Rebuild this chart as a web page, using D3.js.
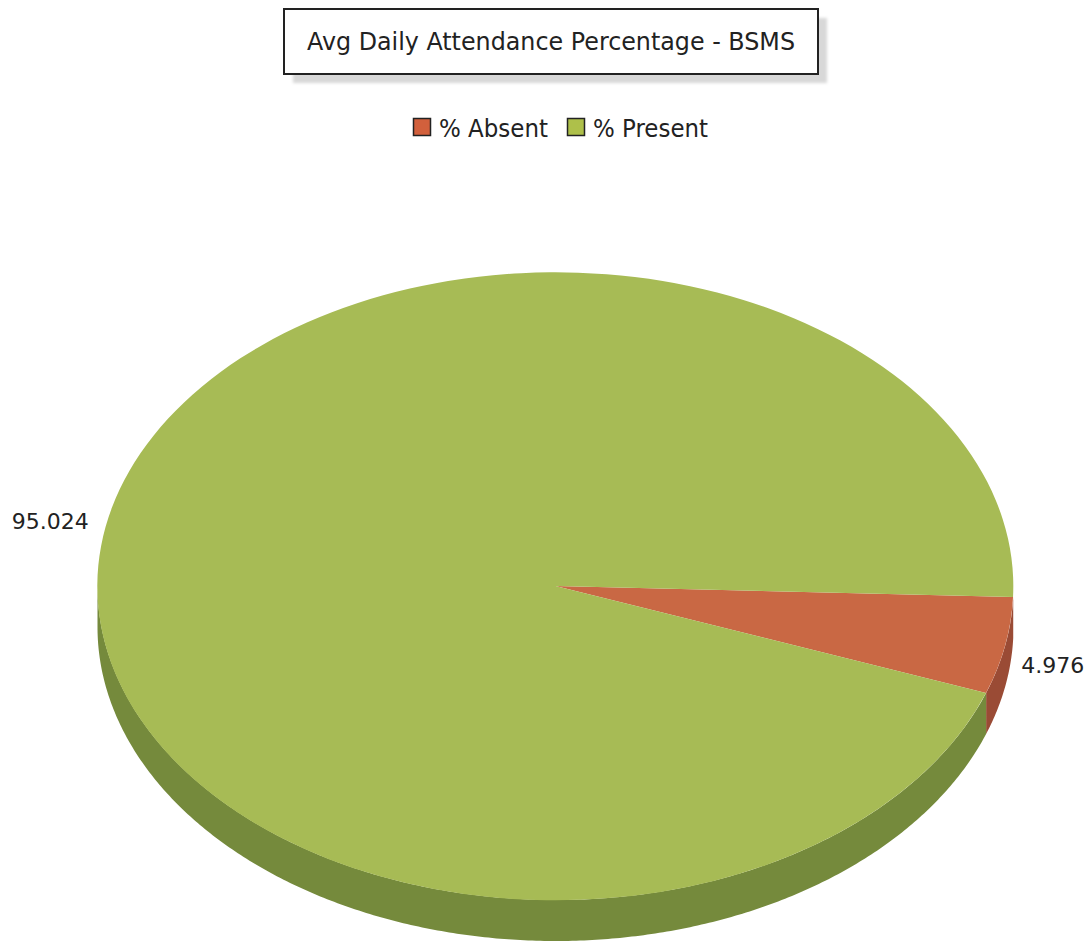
<!DOCTYPE html>
<html>
<head>
<meta charset="utf-8">
<title>Avg Daily Attendance Percentage - BSMS</title>
<script src="https://cdn.jsdelivr.net/npm/d3@7"></script>
<style>
  html, body { margin: 0; padding: 0; background: #fff; }
  svg { display: block; }
  text { font-family: "DejaVu Sans", sans-serif; fill: #222; }
</style>
</head>
<body>
<div id="chart"></div>
<script>
const categories = ['% Absent', '% Present'];
const values = [4.976, 95.024];
const valueLabels = ['4.976', '95.024'];
const faceColors = ['#c96844', '#a7bb55'];
const wallColors = ['#9a4b35', '#758a3c'];
const legendColors = ['#d2603c', '#aec04a'];
const titleText = 'Avg Daily Attendance Percentage - BSMS';

const WIDTH = 1090;
const HEIGHT = 945;
const PIE = { cx: 555.5, cy: 586, rx: 458, ry: 314, depth: 41, start: 92 };
const rad = d => d * Math.PI / 180;

const svg = d3.select('#chart').append('svg')
  .attr('width', WIDTH)
  .attr('height', HEIGHT);

svg.append('defs').append('filter')
  .attr('id', 'soft')
  .append('feGaussianBlur')
  .attr('stdDeviation', 1.5);

// title box with its shadow
const TITLE = { x: 284, y: 9, w: 534, h: 65, shadow: 9 };
svg.append('rect')
  .attr('x', TITLE.x + TITLE.shadow)
  .attr('y', TITLE.y + TITLE.shadow)
  .attr('width', TITLE.w)
  .attr('height', TITLE.h)
  .attr('fill', '#d8d8d8')
  .attr('filter', 'url(#soft)');
svg.append('rect')
  .attr('x', TITLE.x)
  .attr('y', TITLE.y)
  .attr('width', TITLE.w)
  .attr('height', TITLE.h)
  .attr('fill', '#fff')
  .attr('stroke', '#222')
  .attr('stroke-width', 2);
svg.append('text')
  .attr('x', TITLE.x + TITLE.w / 2)
  .attr('y', 50)
  .attr('text-anchor', 'middle')
  .attr('font-size', 24)
  .attr('textLength', 488)
  .attr('lengthAdjust', 'spacingAndGlyphs')
  .text(titleText);

// legend
const legendX = [413, 567];
const legendTextLen = [109, 115];
const legend = svg.append('g').selectAll('g')
  .data(categories)
  .enter()
  .append('g')
  .attr('transform', (d, i) => `translate(${legendX[i]}, 118)`);
legend.append('rect')
  .attr('x', 0.5)
  .attr('y', 0.5)
  .attr('width', 17)
  .attr('height', 17)
  .attr('fill', (d, i) => legendColors[i])
  .attr('stroke', '#222')
  .attr('stroke-width', 1.5);
legend.append('text')
  .attr('x', 26)
  .attr('y', 19)
  .attr('font-size', 24)
  .attr('textLength', (d, i) => legendTextLen[i])
  .attr('lengthAdjust', 'spacingAndGlyphs')
  .text(d => d);

// pie, tilted by squashing the unit circle
const pie = d3.pie()
  .value(d => d)
  .sort(null)
  .startAngle(rad(PIE.start))
  .endAngle(rad(PIE.start + 360));
const slices = pie(values);

const arc = d3.arc().innerRadius(0).outerRadius(1);
const squash = `translate(${PIE.cx}, ${PIE.cy}) scale(${PIE.rx}, ${PIE.ry})`;

// side wall of a slice: only the part on the front half of the ellipse shows
const edgePoint = (a, dy) => {
  const [x, y] = d3.pointRadial(a, 1);
  return [PIE.cx + x * PIE.rx, PIE.cy + y * PIE.ry + dy];
};
const wallPath = (d) => {
  const a0 = Math.max(d.startAngle, rad(90));
  const a1 = Math.min(d.endAngle, rad(270));
  if (a1 <= a0) return null;
  const angles = d3.range(a0, a1, rad(0.5)).concat([a1]);
  const top = angles.map(a => edgePoint(a, 0));
  const bottom = angles.slice().reverse().map(a => edgePoint(a, PIE.depth));
  return d3.line()(top.concat(bottom)) + 'Z';
};

const plot = svg.append('g');
plot.selectAll('path.wall')
  .data(slices)
  .enter()
  .append('path')
  .classed('wall', true)
  .attr('d', wallPath)
  .attr('fill', (d, i) => wallColors[i]);
plot.selectAll('path.face')
  .data(slices)
  .enter()
  .append('path')
  .classed('face', true)
  .attr('transform', squash)
  .attr('d', arc)
  .attr('fill', (d, i) => faceColors[i]);

// value labels sit beside the rim, at the slice's mid angle
const labelOffset = [{ dx: 16, dy: 27 }, { dx: -17, dy: 3 }];
svg.append('g').selectAll('text')
  .data(slices)
  .enter()
  .append('text')
  .attr('x', (d, i) => edgePoint((d.startAngle + d.endAngle) / 2, 0)[0] + labelOffset[i].dx)
  .attr('y', (d, i) => edgePoint((d.startAngle + d.endAngle) / 2, 0)[1] + labelOffset[i].dy)
  .attr('text-anchor', (d, i) => (i === 0 ? 'start' : 'end'))
  .attr('font-size', 22)
  .text((d, i) => valueLabels[i]);
</script>
</body>
</html>
